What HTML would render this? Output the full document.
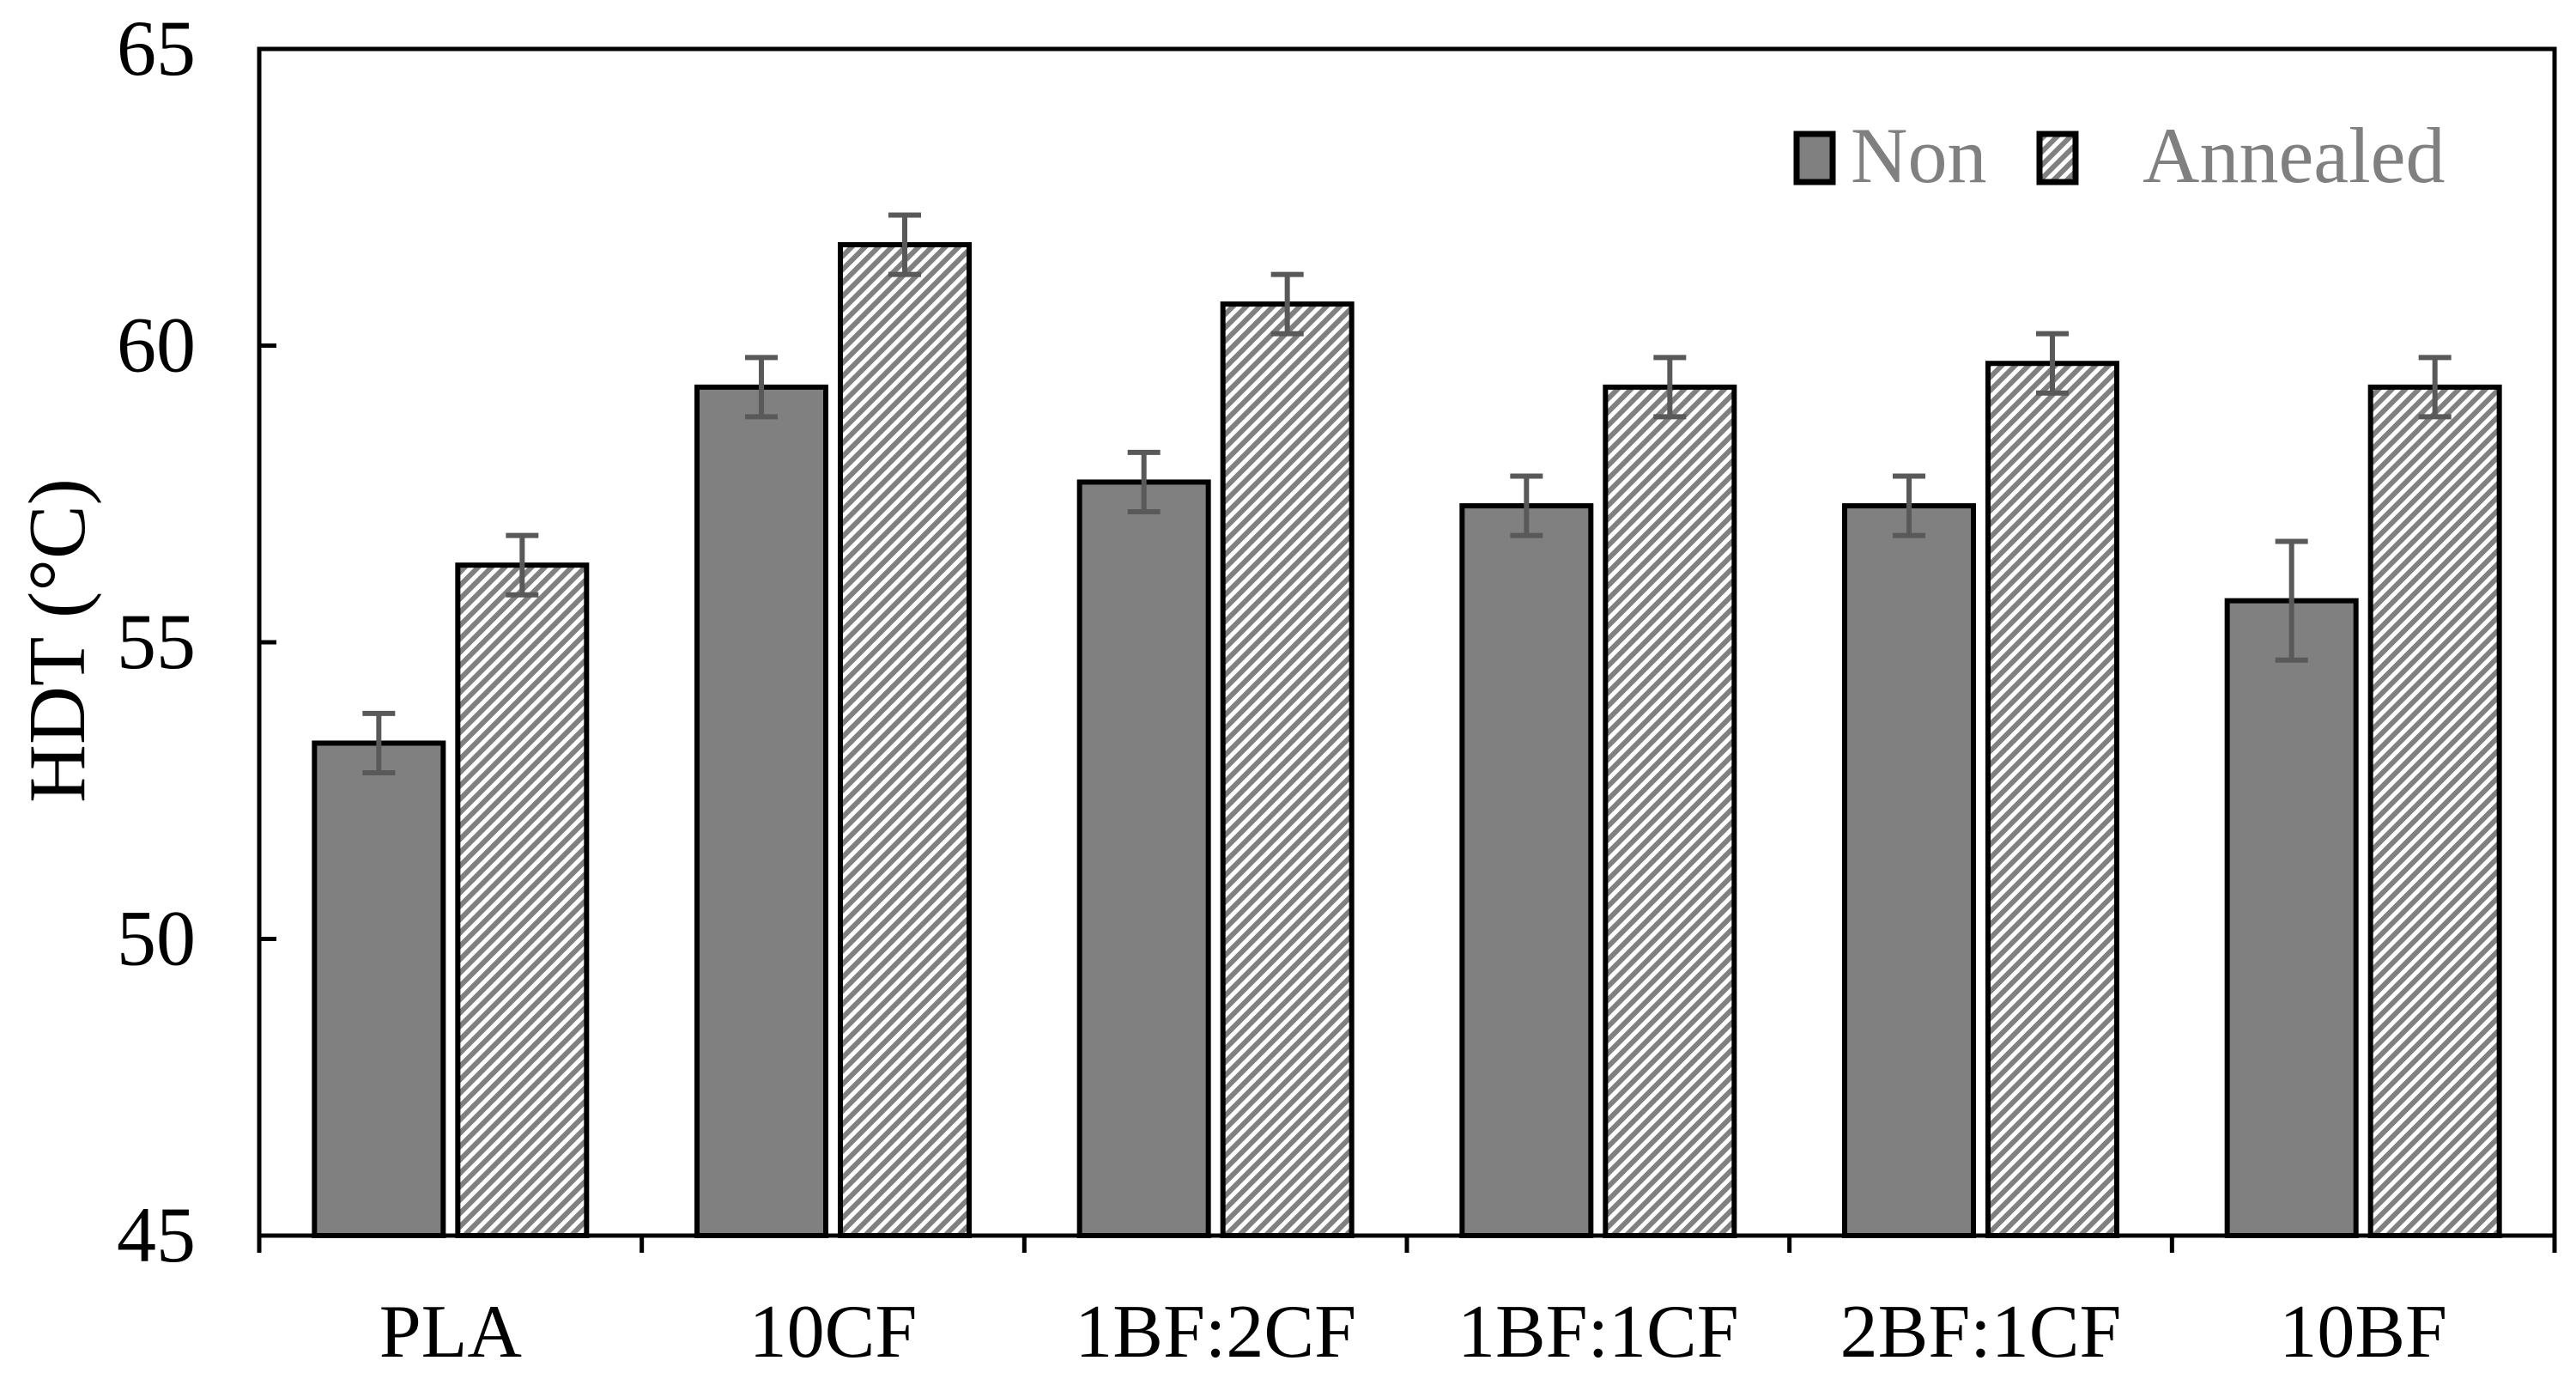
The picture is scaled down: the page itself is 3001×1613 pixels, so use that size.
<!DOCTYPE html>
<html><head><meta charset="utf-8"><style>
html,body{margin:0;padding:0;background:#fff;}
svg{display:block;font-family:"Liberation Serif",serif;}
</style></head><body>
<svg id="chart" width="3001" height="1613" viewBox="0 0 3001 1613" xmlns="http://www.w3.org/2000/svg">
<defs>
<pattern id="hatch" patternUnits="userSpaceOnUse" width="11" height="11" patternTransform="rotate(45)">
<rect width="11" height="11" fill="#fff"/>
<rect width="6" height="11" fill="#808080"/>
</pattern>
</defs>
<g id="plot"></g>
</svg>
<script>
const categories = ["PLA","10CF","1BF:2CF","1BF:1CF","2BF:1CF","10BF"];
const nonValues = [53.3, 59.3, 57.7, 57.3, 57.3, 55.7];
const nonErrors = [0.5, 0.5, 0.5, 0.5, 0.5, 1.0];
const annealedValues = [56.3, 61.7, 60.7, 59.3, 59.7, 59.3];
const annealedErrors = [0.5, 0.5, 0.5, 0.5, 0.5, 0.5];
const yTicks = [45, 50, 55, 60, 65];

const NS = "http://www.w3.org/2000/svg";
const L = 302, R = 2976, T = 57, B = 1439;
const yMin = 45, yMax = 65;
const y = v => B - (v - yMin) / (yMax - yMin) * (B - T);
const band = (R - L) / categories.length;
const xc = i => L + band * (i + 0.5);
const barW = 150, gap = 17;
const g = document.getElementById('plot');
function mk(tag, attrs) { const e = document.createElementNS(NS, tag); for (const k in attrs) e.setAttribute(k, attrs[k]); g.appendChild(e); return e; }

function drawBar(i, v, err, left, fill, name) {
  const r = mk('rect', {x: left, y: y(v), width: barW, height: B - y(v), fill: fill, stroke: '#000', 'stroke-width': 6});
  
  
  const cx = left + barW / 2;
  const e1 = mk('path', {d: `M${cx},${y(v+err)}V${y(v-err)}M${cx-19},${y(v+err)}H${cx+19}M${cx-19},${y(v-err)}H${cx+19}`, stroke: '#595959', 'stroke-width': 6, fill: 'none'});
  
  
}
categories.forEach((c, i) => {
  drawBar(i, nonValues[i], nonErrors[i], xc(i) - gap/2 - barW, '#808080', 'bar-non-' + c.toLowerCase().replace(':','-'));
  drawBar(i, annealedValues[i], annealedErrors[i], xc(i) + gap/2, 'url(#hatch)', 'bar-annealed-' + c.toLowerCase().replace(':','-'));
  const t = mk('text', {x: xc(i), y: 1580, 'font-size': 88, 'text-anchor': 'middle', fill: '#000'});
  t.textContent = c;
  
  
});
const fr = mk('rect', {x: L, y: T, width: R - L, height: B - T, fill: 'none', stroke: '#000', 'stroke-width': 5});


for (let i = 0; i <= categories.length; i++) {
  const tk = mk('line', {x1: L + band*i, x2: L + band*i, y1: B, y2: B + 20, stroke: '#000', 'stroke-width': 5});
  
  
}
yTicks.forEach(v => {
  const tk = mk('line', {x1: L, x2: L + 20, y1: y(v), y2: y(v), stroke: '#000', 'stroke-width': 5});
  
  
  const t = mk('text', {x: 228, y: y(v) + 30, 'font-size': 92, 'text-anchor': 'end', fill: '#000'});
  t.textContent = v;
  
  
});
const yt = mk('text', {x: 0, y: 0, 'font-size': 94, 'text-anchor': 'middle', fill: '#000', transform: 'translate(98,746) rotate(-90)'});
yt.textContent = 'HDT (°C)';


const s1 = mk('rect', {x: 2093, y: 156, width: 42, height: 56, fill: '#808080', stroke: '#000', 'stroke-width': 7});


const l1 = mk('text', {x: 2156, y: 212, 'font-size': 92, fill: '#808080'});
l1.textContent = 'Non';


const s2 = mk('rect', {x: 2376, y: 156, width: 42, height: 56, fill: 'url(#hatch)', stroke: '#000', 'stroke-width': 7});


const l2 = mk('text', {x: 2496, y: 212, 'font-size': 92, fill: '#808080'});
l2.textContent = 'Annealed';


</script>
</body></html>
